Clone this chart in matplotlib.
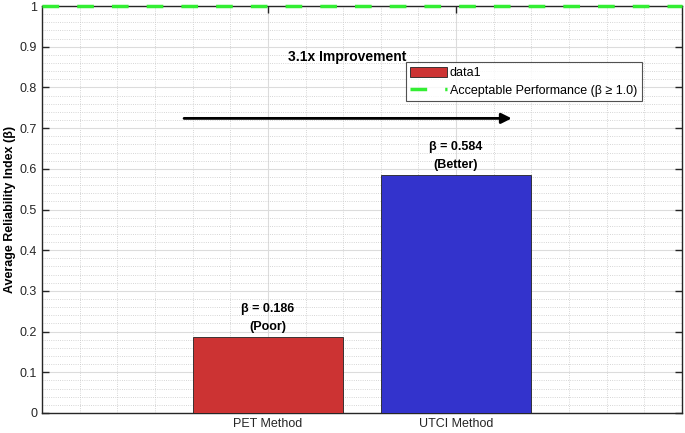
import numpy as np
import matplotlib
matplotlib.use('Agg')
import matplotlib.pyplot as plt
from matplotlib.ticker import MultipleLocator

# data
methods = ['PET Method', 'UTCI Method']
beta_values = [0.186, 0.584]
quality_labels = ['Poor', 'Better']
bar_colors = ['#cc3333', '#3333cc']
threshold = 1.0
improvement_text = '3.1x Improvement'

plt.rcParams['font.family'] = ['Liberation Sans', 'DejaVu Sans']

fig = plt.figure(figsize=(6.85, 4.33), dpi=100)
ax = fig.add_axes([0.0613, 0.0462, 0.9343, 0.9398])

x = np.arange(1, len(methods) + 1)
bars = ax.bar(x, beta_values, width=0.8, color=bar_colors,
              edgecolor='#222222', linewidth=0.6, zorder=3)
bars[0].set_label('data1')

ax.axhline(threshold, color='#33ee33', linestyle=(0, (4.8, 5.2)), linewidth=2.5,
           label='Acceptable Performance (\u03b2 \u2265 1.0)', zorder=4,
           clip_on=False)

# value labels above bars
for xi, v, q in zip(x, beta_values, quality_labels):
    ax.text(xi, v + 0.01, f'\u03b2 = {v:.3f}\n({q})', ha='center', va='bottom',
            fontsize=9, fontweight='bold', linespacing=1.65, zorder=5)

# improvement arrow
ax.annotate('', xy=(2.31, 0.724), xytext=(0.54, 0.724),
            arrowprops=dict(arrowstyle='-|>', color='black', lw=2,
                            mutation_scale=15), zorder=5)
ax.text(1.42, 0.875, improvement_text, ha='center', va='center',
        fontsize=10, fontweight='bold')

ax.set_xlim(-0.2, 3.2)
ax.set_ylim(0, 1)
ax.set_xticks(x)
ax.set_xticklabels(methods)
ax.set_yticks(np.arange(0, 1.01, 0.1))
ax.set_yticklabels(['0', '0.1', '0.2', '0.3', '0.4', '0.5', '0.6', '0.7',
                    '0.8', '0.9', '1'])
ax.xaxis.set_minor_locator(MultipleLocator(0.2))
ax.yaxis.set_minor_locator(MultipleLocator(0.02))
ax.tick_params(which='major', direction='in', length=5, width=1,
               top=True, right=True, labelsize=9, colors='#262626')
ax.tick_params(which='minor', length=0)
ax.grid(which='major', color='#dcdcdc', linewidth=0.8, zorder=0)
ax.grid(which='minor', color='#c8c8c8', linestyle=':', linewidth=0.6, zorder=0)
ax.set_axisbelow(True)
for s in ax.spines.values():
    s.set_color('#262626')
    s.set_linewidth(1)

ax.set_ylabel('Average Reliability Index (\u03b2)', fontsize=9,
              fontweight='bold', labelpad=3)

leg = ax.legend(loc='upper left', bbox_to_anchor=(0.568, 0.862), fontsize=9,
                frameon=True, fancybox=False, edgecolor='#262626',
                borderpad=0.35, handlelength=3, handleheight=0.9,
                handletextpad=0.2, labelspacing=0.4, borderaxespad=0)
leg.get_frame().set_linewidth(0.8)

fig.savefig('out.png', dpi=100)
